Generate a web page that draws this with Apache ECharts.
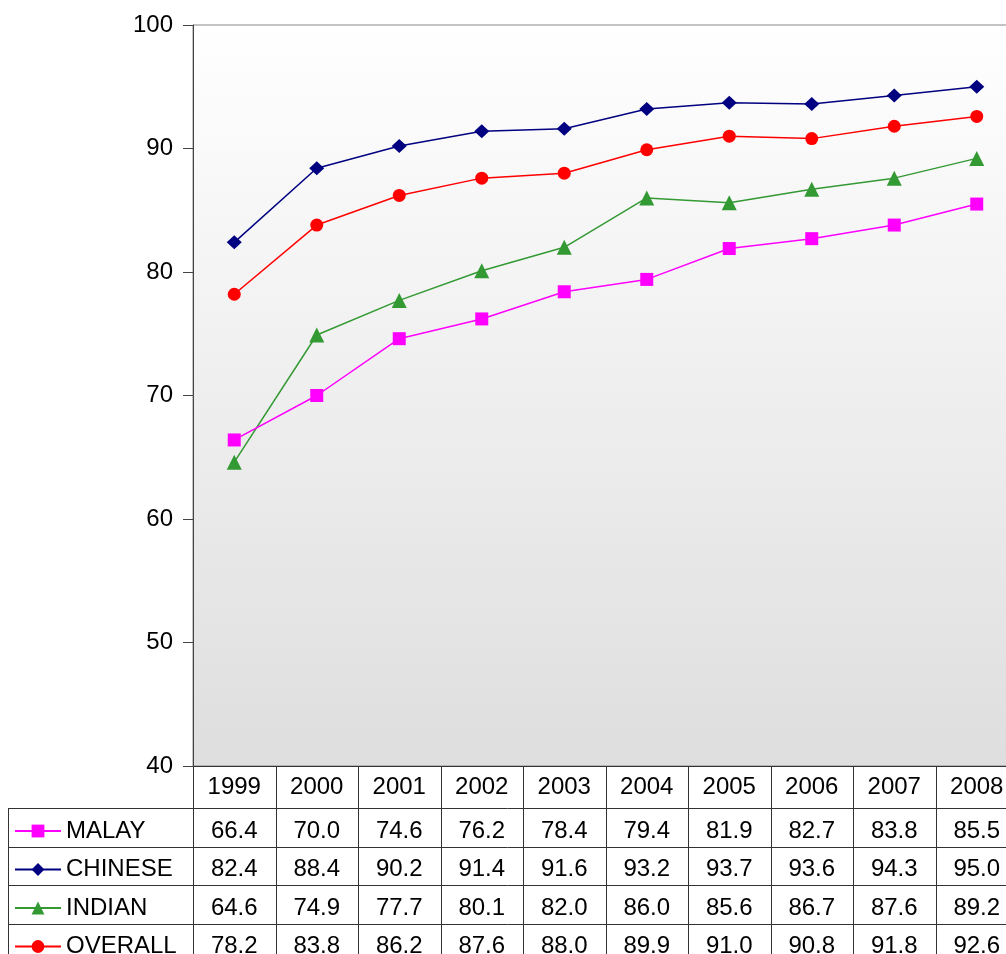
<!DOCTYPE html>
<html>
<head>
<meta charset="utf-8">
<script src="https://cdn.jsdelivr.net/npm/echarts@6/dist/echarts.min.js"></script>
<style>
html,body{margin:0;padding:0;background:#fff;}
#chart{width:1006px;height:954px;}
</style>
</head>
<body>
<div id="chart"></div>
<script>
const years = ['1999','2000','2001','2002','2003','2004','2005','2006','2007','2008'];
const seriesNames = ['MALAY','CHINESE','INDIAN','OVERALL'];
const malay   = [66.4, 70.0, 74.6, 76.2, 78.4, 79.4, 81.9, 82.7, 83.8, 85.5];
const chinese = [82.4, 88.4, 90.2, 91.4, 91.6, 93.2, 93.7, 93.6, 94.3, 95.0];
const indian  = [64.6, 74.9, 77.7, 80.1, 82.0, 86.0, 85.6, 86.7, 87.6, 89.2];
const overall = [78.2, 83.8, 86.2, 87.6, 88.0, 89.9, 91.0, 90.8, 91.8, 92.6];
const yTicks = [40, 50, 60, 70, 80, 90, 100];

const seriesData = [malay, chinese, indian, overall];
const colors = ['#FF00FF', '#000080', '#339933', '#FF0000'];
const symbols = ['rect', 'diamond', 'triangle', 'circle'];
const symbolSizes = [13, [15, 14], 15, 13];

const FONT = 'Liberation Sans, Arial, sans-serif';
const FS = 24;
const chart = echarts.init(document.getElementById('chart'));

const GL = 193, GT = 25, GW = 825, GH = 741;
const HEAD = 42;
const ROW = 38.5;

chart.setOption({
  animation: false,
  grid: {
    left: GL, top: GT, width: GW, height: GH,
    outerBoundsMode: 'none',
    show: true,
    borderColor: '#888',
    borderWidth: 1,
    backgroundColor: {
      type: 'linear', x: 0, y: 0, x2: 0, y2: 1,
      colorStops: [{offset: 0, color: '#ffffff'}, {offset: 1, color: '#dedede'}]
    }
  },
  legend: {
    orient: 'vertical',
    left: 14, top: 819,
    width: 180, height: 300,
    itemWidth: 46, itemHeight: 16,
    itemGap: 14.5,
    padding: 0,
    selectedMode: false,
    textStyle: {fontFamily: FONT, fontSize: FS, color: '#000'},
    data: seriesNames
  },
  xAxis: {
    type: 'category',
    data: years,
    boundaryGap: true,
    axisLine: {show: false},
    axisTick: {show: false},
    axisLabel: {show: false},
    splitLine: {show: false}
  },
  yAxis: {
    type: 'value',
    min: yTicks[0], max: yTicks[yTicks.length - 1], interval: 10,
    axisLine: {show: true, lineStyle: {color: '#444', width: 1}},
    axisTick: {show: true, inside: false, length: 10, lineStyle: {color: '#444'}},
    axisLabel: {fontFamily: FONT, fontSize: FS, color: '#000', margin: 20},
    splitLine: {show: false}
  },
  series: seriesNames.map((n, i) => ({
    name: n,
    type: 'line',
    data: seriesData[i],
    color: colors[i],
    symbol: symbols[i],
    symbolSize: symbolSizes[i],
    showAllSymbol: true,
    lineStyle: {width: 1.5, color: colors[i]},
    itemStyle: {color: colors[i]},
    z: 10 - i
  }))
});

// Data table below the plot
function buildTable() {
  const g = [];
  const top = GT + GH;
  const bodyTop = top + HEAD;
  const bottom = bodyTop + ROW * 4;
  const lineColor = '#333';
  const xs = years.map((y) => chart.convertToPixel({xAxisIndex: 0}, y));
  const right = GL + GW;
  g.push({type: 'line', shape: {x1: GL, y1: top + 0.5, x2: right, y2: top + 0.5}, style: {stroke: lineColor, lineWidth: 1}, silent: true});
  for (let r = 0; r < 4; r++) {
    const y = Math.round(bodyTop + ROW * r) + 0.5;
    g.push({type: 'line', shape: {x1: 8, y1: y, x2: right, y2: y}, style: {stroke: lineColor, lineWidth: 1}, silent: true});
  }
  g.push({type: 'line', shape: {x1: 8.5, y1: bodyTop, x2: 8.5, y2: bottom}, style: {stroke: lineColor, lineWidth: 1}, silent: true});
  for (let i = 0; i <= years.length; i++) {
    const x = Math.round(GL + (GW / years.length) * i) + 0.5;
    g.push({type: 'line', shape: {x1: x, y1: top, x2: x, y2: bottom}, style: {stroke: lineColor, lineWidth: 1}, silent: true});
  }
  years.forEach((y, i) => {
    g.push({type: 'text', x: xs[i], y: top + 21.5, style: {text: y, fontFamily: FONT, fontSize: FS, fill: '#000', align: 'center', verticalAlign: 'middle'}, silent: true});
  });
  seriesData.forEach((arr, r) => {
    arr.forEach((v, i) => {
      g.push({type: 'text', x: xs[i], y: bodyTop + ROW * r + ROW / 2 + 4, style: {text: v.toFixed(1), fontFamily: FONT, fontSize: FS, fill: '#000', align: 'center', verticalAlign: 'middle'}, silent: true});
    });
  });
  chart.setOption({graphic: g});
}
buildTable();
</script>
</body>
</html>
